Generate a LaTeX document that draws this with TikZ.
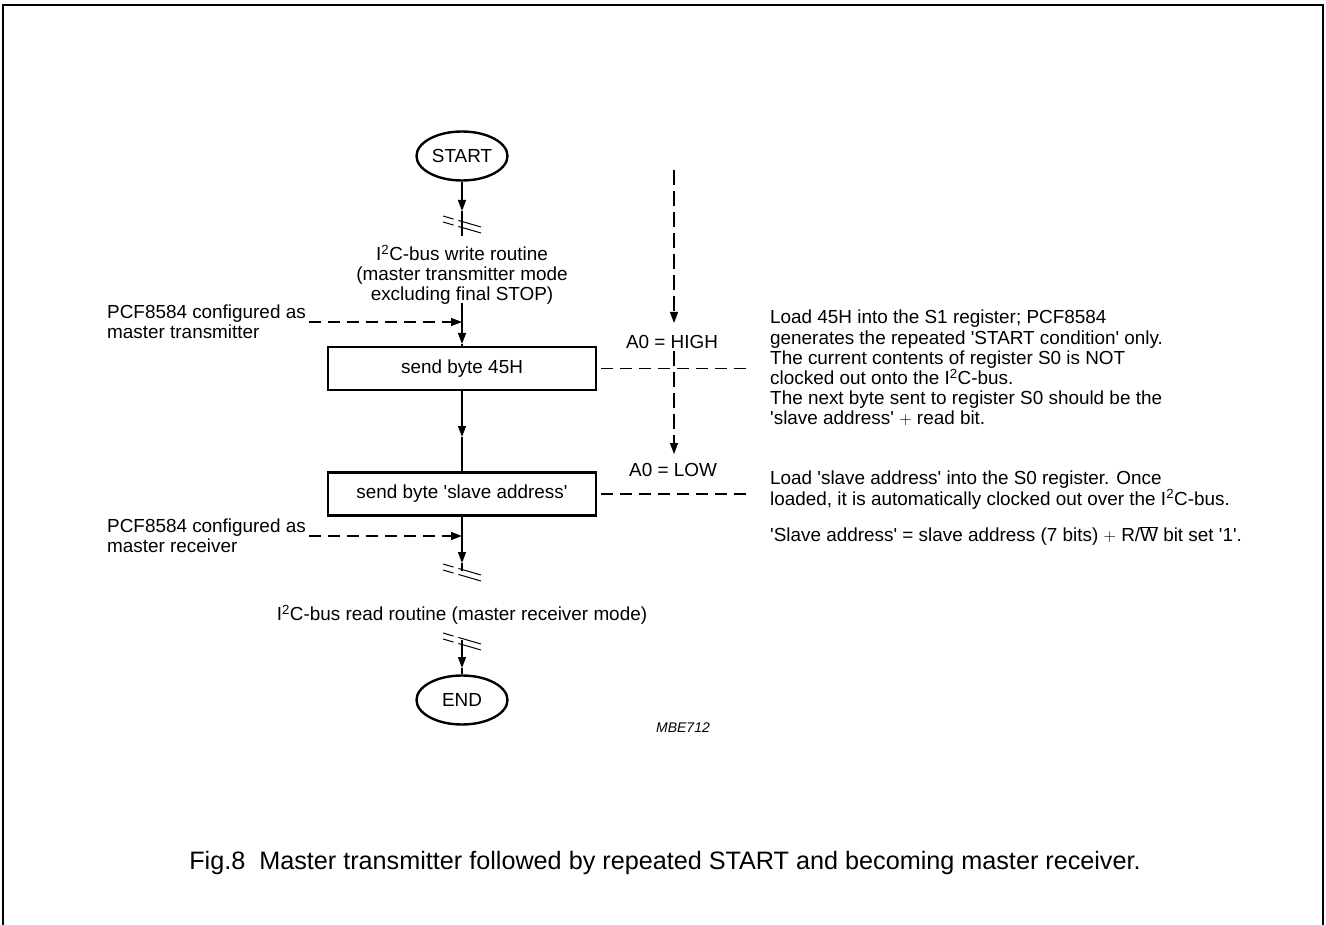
\documentclass[tikz,border=0pt]{standalone}
\usepackage{fontspec}
\setmainfont{Liberation Sans}
\usetikzlibrary{arrows.meta,shapes.geometric}
\newcommand{\myq}{\textquotesingle}
\begin{document}
\begin{tikzpicture}[x=1pt,y=-1pt,
  txt/.style={font=\fontsize{18.9}{20.2}\selectfont, inner sep=0pt},
  term/.style={ellipse, draw, line width=2.4pt, minimum width=91pt, minimum height=49pt, inner sep=0pt, txt},
  proc/.style={draw, line width=2.4pt, minimum width=268pt, minimum height=43pt, inner sep=0pt, txt},
  flow/.style={line width=1.3pt},
  tip/.style={-{Triangle[length=11pt,width=8pt]}},
  dsh/.style={line width=1.2pt, dash pattern=on 12pt off 7pt},
  vdsh/.style={line width=1.2pt, dash pattern=on 15pt off 6pt},
  brk/.style={line width=1pt, dash pattern=on 11pt off 5pt on 40pt},
  brkmark/.pic={\draw[brk] (-19,-8) -- (19,3); \draw[brk] (-19,-2) -- (19,9);}
]
\useasboundingbox (0,0) rectangle (1326,925);
\draw[line width=2pt] (3,925) -- (3,5) -- (1323,5) -- (1323,925);

% main column
\node[term] (start) at (462,156) {START};
\node[txt, align=center] (wr) at (462,275) {I\textsuperscript{2}C-bus write routine\\(master transmitter mode\\excluding final STOP)};
\node[proc] (b1) at (462,368.5) {send byte 45H};
\node[proc] (b2) at (462,494) {send byte \myq slave address\myq};
\node[txt] (rd) at (462,615) {I\textsuperscript{2}C-bus read routine (master receiver mode)};
\node[term] (end) at (462,700) {END};

\coordinate (a1) at (462,211);
\coordinate (w1) at (462,236);
\coordinate (c1) at (462,303);
\coordinate (j1) at (462,322);
\coordinate (a2) at (462,344);
\coordinate (m1) at (462,437);
\coordinate (j2) at (462,536);
\coordinate (a3) at (462,563);
\coordinate (r1) at (462,571);
\coordinate (r2) at (462,640);
\coordinate (a4) at (462,668);

\draw[flow,tip] (start.south) -- (a1);
\draw[flow] (a1) -- (w1);
\pic at (462,224) {brkmark};
\draw[flow,tip] (c1) -- (a2);
\draw[flow] (a2) -- (b1.north);
\draw[flow,tip] (b1.south) -- (m1);
\draw[flow] (m1) -- (b2.north);
\draw[flow,tip] (b2.south) -- (a3);
\draw[flow] (a3) -- (r1);
\pic at (462,572) {brkmark};
\pic at (462,641) {brkmark};
\draw[flow,tip] (r2) -- (a4);
\draw[flow] (a4) -- (end.north);

% left labels
\node[txt, align=left, anchor=west] (l1) at (107,322) {PCF8584 configured as\\master transmitter};
\node[txt, align=left, anchor=west] (l2) at (107,536) {PCF8584 configured as\\master receiver};
\draw[dsh,tip,shorten <=3pt] (l1.east) -- (j1);
\draw[dsh,tip,shorten <=3pt] (l2.east) -- (j2);

% A0 column
\node[txt] (hi) at (672,342) {A0 = HIGH};
\node[txt] (lo) at (673,470) {A0 = LOW};
\coordinate (v0) at (674,170);
\coordinate (v1) at (674,323);
\coordinate (v2) at (674,351);
\coordinate (v3) at (674,454);
\draw[vdsh,tip] (v0) -- (v1);
\draw[vdsh,tip] (v2) -- (v3);

\coordinate (h1) at (752,368.5);
\coordinate (h2) at (752,494);
\draw[dsh,shorten <=4pt] (b1.east) -- (h1);
\draw[dsh,shorten <=4pt] (b2.east) -- (h2);

% right texts
\node[txt, align=left, anchor=north west] (n1) at (770,310) {Load 45H into the S1 register; PCF8584\\generates the repeated \myq START condition\myq\ only.\\The current contents of register S0 is NOT\\clocked out onto the I\textsuperscript{2}C-bus.\\The next byte sent to register S0 should be the\\\myq slave address\myq\ $+$ read bit.};
\node[txt, align=left, anchor=north west] (n2) at (770,471) {Load \myq slave address\myq\ into the S0 register. Once\\loaded, it is automatically clocked out over the I\textsuperscript{2}C-bus.};
\node[txt, anchor=north west] (n3) at (770,526) {\myq Slave address\myq\ = slave address (7 bits) $+$ R/$\overline{\mbox{W}}$ bit set \myq 1\myq .};

\node[font=\itshape\fontsize{14}{16}\selectfont, inner sep=0pt] (mbe) at (683,728) {MBE712};
\node[font=\fontsize{25.2}{29}\selectfont, inner sep=0pt] (cap) at (665,863) {Fig.8\ \ Master transmitter followed by repeated START and becoming master receiver.};
\end{tikzpicture}
\end{document}
